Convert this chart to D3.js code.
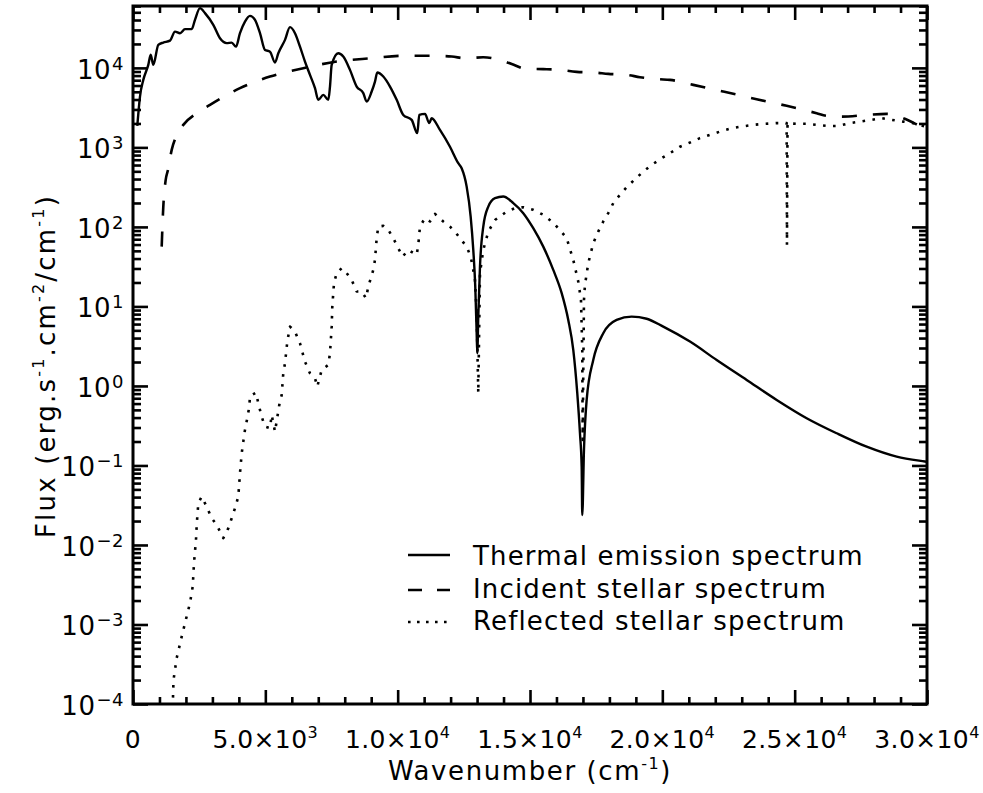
<!DOCTYPE html>
<html>
<head>
<meta charset="utf-8">
<script src="https://cdn.jsdelivr.net/npm/d3@7"></script>
<style>
  html, body { margin: 0; padding: 0; background: #fff; }
  svg { display: block; }
  text { font-family: "DejaVu Sans", sans-serif; fill: #000; }
</style>
</head>
<body>
<svg id="chart" width="983" height="793"></svg>
<script>
// ---------------- DATA ----------------
const thermalWn = [162,264,389,578,669,767,956,1145,1398,1587,1776,1964,2218,2342,2531,2720,3034,3287,3540,3729,3891,4042,4231,4420,4609,4798,4987,5176,5365,5490,5743,5932,6120,6309,6498,6687,6876,7001,7190,7379,7443,7507,7756,7945,8198,8452,8701,8829,9018,9143,9230,9457,9710,9963,10212,10529,10741,10817,11032,11194,11285,11598,11976,12290,12418,12607,12758,12857,12932,12985,13008,13046,13110,13235,13424,13677,13990,14368,14746,15123,15501,15879,16197,16446,16635,16786,16888,16952,16975,17039,17141,17390,17768,18274,18841,19408,20035,21044,22053,23186,24320,25453,26587,27720,28854,29922,30000];
const thermalFlux = [1860,4360,7060,10900,14600,10900,19500,20800,22000,28600,27300,30700,30700,40200,56400,48800,34800,23600,20500,20800,18500,27300,38200,45100,40200,27300,16800,16000,11700,15300,22500,32500,27300,18500,12000,8170,5560,3960,4570,3960,5820,10900,15300,13900,9440,5820,4810,3770,5040,6730,8730,7780,5820,3960,2560,2220,1510,2560,2640,2020,2330,1660,1020,632,547,321,135,51.4,17.7,4.60,2.58,7.45,31.7,101,180,230,241,199,149,96.4,56.5,28.8,14.7,6.76,2.84,0.81,0.254,0.0966,0.0238,0.157,0.667,2.12,4.60,6.76,7.45,7.0,5.57,3.61,2.12,1.19,0.667,0.393,0.254,0.172,0.129,0.112,0.111];

const incidentWn = [1084,1145,1235,1322,1462,1625,1900,2407,2909,4042,5176,6434,7696,8954,10212,11221,12041,12543,13235,13741,14308,14848,15501,16008,16763,17455,17958,18653,19155,19847,20289,21169,22303,23564,24698,25831,26209,26776,27720,28475,29102,29922,30000];
const incidentFlux = [56.5,180,390,521,931,1360,1920,2690,3430,5560,7780,9910,12000,13200,14200,14200,13900,13200,13600,12900,11200,9710,9640,9520,8910,8730,8410,8170,7640,7210,7060,6110,5040,4040,3330,2690,2490,2440,2560,2640,2330,1740,1700];

const reflectedWn = [1500,1530,1651,1840,1965,2153,2256,2305,2380,2407,2467,2596,2784,2973,3162,3412,3600,3729,3854,3978,4042,4107,4167,4231,4318,4394,4420,4647,4734,4862,4987,5176,5240,5365,5527,5618,5678,5743,5830,5932,6120,6309,6498,6687,6876,6963,7129,7379,7443,7507,7530,7594,7696,7885,8074,8263,8452,8641,8803,8890,9079,9143,9207,9268,9457,9646,9834,10023,10189,10401,10718,10779,10843,11032,11221,11410,11723,11976,12165,12354,12607,12758,12834,12921,12985,13046,13110,13235,13424,13677,14119,14432,14746,15123,15501,15819,16133,16385,16635,16824,16926,16975,16990,17039,17077,17201,17390,17579,17768,17957,18146,18399,18652,18966,19279,19597,19975,20288,20666,21044,21422,21800,22177,22619,22997,23435,23877,24293,24697,24709,24730,25074,25452,25830,26268,26646,27088,27466,27908,28286,28664,29102,29480,29922,30000];
const reflectedFlux = [9e-5,2.0e-4,3.79e-4,7.03e-4,1.04e-3,1.86e-3,2.99e-3,5.94e-3,1.16e-2,1.79e-2,3.35e-2,4.05e-2,3.03e-2,2.17e-2,1.79e-2,1.22e-2,1.62e-2,2.17e-2,2.90e-2,4.05e-2,7.98e-2,0.142,0.199,0.280,0.393,0.549,0.748,0.824,0.606,0.411,0.308,0.294,0.432,0.266,0.577,0.771,1.44,1.93,3.61,5.57,4.82,3.44,2.02,1.44,1.25,0.98,1.59,1.84,2.58,5.57,9.94,19.6,26.2,30.3,26.2,21.5,15.4,15.4,12.7,17.7,28.8,38.5,72.1,101,103,91.7,72.1,54.0,42.3,51.4,44.5,59.4,101,129,117,146,117,101,87.3,72.1,56.5,42.3,31.7,21.5,8.21,0.81,26.2,51.4,87.3,122,156,172,177,164,142,117,91.7,72.1,38.5,20.5,12.1,2.84,0.209,12.1,18.6,34.9,62.4,87.3,117,149,199,253,316,398,496,603,731,845,1020,1150,1310,1440,1580,1740,1830,1920,1980,2020,2020,59.4,2010,1980,1980,1920,1860,1860,2020,2110,2220,2330,2220,2110,2020,1830,1800];

const xTickValues = [0,5000,10000,15000,20000,25000,30000];
const xTickMantissa = ["0","5.0","1.0","1.5","2.0","2.5","3.0"];
const xTickExponent = [null,"3","4","4","4","4","4"];
const yTickExponents = [-4,-3,-2,-1,0,1,2,3,4];
const yTickLabelExp = ["\u22124","\u22123","\u22122","\u22121","0","1","2","3","4"];

const legendLabels = ["Thermal emission spectrum","Incident stellar spectrum","Reflected stellar spectrum"];
const xTitle = "Wavenumber (cm";
const yTitleParts = [["Flux (erg.s",false],["-1",true],[".cm",false],["-2",true],["/cm",false],["-1",true],[")",false]];

// ---------------- LAYOUT ----------------
const L = 133, R = 927, T = 6, B = 704;
const svg = d3.select("#chart");

const x = d3.scaleLinear().domain([0, 30000]).range([L, R]);
const y = d3.scaleLog().domain([1e-4, 6.0e4]).range([B, T]);

svg.append("defs").append("clipPath").attr("id","clip")
  .append("rect").attr("x",L).attr("y",T).attr("width",R-L).attr("height",B-T);

// ---------------- TICKS ----------------
const xMinor = d3.range(0, 30001, 1000).filter(v => v % 5000 !== 0);
const yMajor = yTickExponents.map(e => Math.pow(10, e));
const yMinor = [];
for (let e = -4; e <= 4; e++) for (let k = 2; k <= 9; k++) {
  const v = k * Math.pow(10, e);
  if (v <= 6.0e4) yMinor.push(v);
}

function tickAxis(axisFn, scale, vals, size, transform) {
  const g = svg.append("g").attr("transform", transform)
    .call(axisFn(scale).tickValues(vals).tickSize(size).tickFormat(""));
  g.select(".domain").remove();
  g.selectAll(".tick line").attr("stroke","#000").attr("stroke-width",2.6);
  return g;
}
tickAxis(d3.axisBottom, x, xTickValues, -14, `translate(0,${B})`);
tickAxis(d3.axisBottom, x, xMinor, -7, `translate(0,${B})`);
tickAxis(d3.axisTop, x, xTickValues, -14, `translate(0,${T})`);
tickAxis(d3.axisTop, x, xMinor, -7, `translate(0,${T})`);
tickAxis(d3.axisLeft, y, yMajor, -15, `translate(${L},0)`);
tickAxis(d3.axisLeft, y, yMinor, -8, `translate(${L},0)`);
tickAxis(d3.axisRight, y, yMajor, -15, `translate(${R},0)`);
tickAxis(d3.axisRight, y, yMinor, -8, `translate(${R},0)`);

svg.append("rect").attr("x",L).attr("y",T).attr("width",R-L).attr("height",B-T)
  .attr("fill","none").attr("stroke","#000").attr("stroke-width",3);

// ---------------- TICK LABELS ----------------
const fs = 26;
xTickValues.forEach((v, i) => {
  const t = svg.append("text").attr("x", x(v)).attr("y", 748)
    .attr("text-anchor","middle").attr("font-size", 25).attr("letter-spacing", 0.4);
  if (xTickExponent[i] === null) {
    t.text(xTickMantissa[i]);
  } else {
    t.append("tspan").text(xTickMantissa[i] + "\u00d710");
    t.append("tspan").attr("font-size", 16).attr("dy", -10).text(xTickExponent[i]);
  }
});
yMajor.forEach((v, i) => {
  const t = svg.append("text").attr("x", 124).attr("y", y(v) + 11)
    .attr("text-anchor","end").attr("font-size", fs).attr("letter-spacing", 0.5);
  t.append("tspan").text("10");
  t.append("tspan").attr("font-size", 18).attr("dy", -9).attr("dx", 1).text(yTickLabelExp[i]);
});

// ---------------- AXIS TITLES ----------------
const xt = svg.append("text").attr("x", (L+R)/2).attr("y", 780)
  .attr("text-anchor","middle").attr("font-size", fs).attr("letter-spacing", 1.6);
xt.append("tspan").text(xTitle);
xt.append("tspan").attr("font-size", 16).attr("dy", -11).text("-1");
xt.append("tspan").attr("dy", 11).text(")");

const yt = svg.append("text").attr("transform", `translate(55,${366}) rotate(-90)`)
  .attr("text-anchor","middle").attr("font-size", fs).attr("letter-spacing", 2.2);
let up = false;
yTitleParts.forEach(([s, sup]) => {
  const ts = yt.append("tspan").text(s);
  if (sup && !up) { ts.attr("font-size", 16).attr("dy", -11); up = true; }
  else if (!sup && up) { ts.attr("dy", 11); up = false; }
});

// ---------------- CURVES ----------------
const plot = svg.append("g").attr("clip-path","url(#clip)");

const styles = [
  { wn: thermalWn, fl: thermalFlux, dash: null, w: 2.4, curve: d3.curveMonotoneX },
  { wn: incidentWn, fl: incidentFlux, dash: "15,16", w: 2.6, curve: d3.curveMonotoneX },
  { wn: reflectedWn, fl: reflectedFlux, dash: "2.6,7.4", w: 2.6, curve: d3.curveLinear }
];
styles.forEach(s => {
  const data = s.wn.map((w, i) => [w, s.fl[i]]);
  const line = d3.line().x(d => x(d[0])).y(d => y(d[1])).curve(s.curve);
  const p = plot.append("path").datum(data).attr("d", line)
    .attr("fill","none").attr("stroke","#000").attr("stroke-width", s.w)
    .attr("stroke-linejoin","round");
  if (s.dash) p.attr("stroke-dasharray", s.dash);
});

// ---------------- LEGEND ----------------
const legLineY = [555, 590, 622];
const legTextY = [565, 598, 630];
legendLabels.forEach((lab, i) => {
  const st = styles[i];
  const ln = svg.append("line").attr("x1", 408).attr("x2", 450)
    .attr("y1", legLineY[i]).attr("y2", legLineY[i])
    .attr("stroke","#000").attr("stroke-width", st.w);
  if (st.dash) ln.attr("stroke-dasharray", i === 1 ? "14,15" : "2.6,6.4");
  svg.append("text").attr("x", 473).attr("y", legTextY[i])
    .attr("font-size", fs).attr("letter-spacing", 1.15).text(lab);
});
</script>
</body>
</html>
